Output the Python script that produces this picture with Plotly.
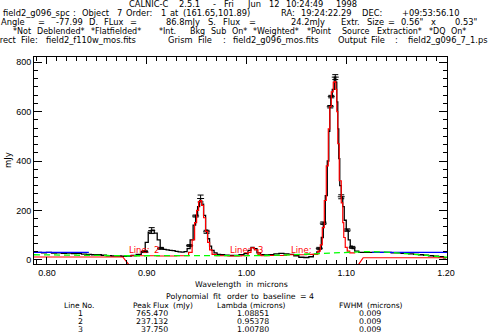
import plotly.graph_objects as go

# ---------------- data ----------------
wl = [0.787, 0.792, 0.797, 0.802, 0.807, 0.812, 0.817, 0.822, 0.827, 0.832, 0.837, 0.842,
      0.847, 0.852, 0.857, 0.862, 0.867, 0.872, 0.877, 0.882, 0.887, 0.892, 0.897, 0.900,
      0.903, 0.906, 0.909, 0.912, 0.915, 0.918, 0.921, 0.924, 0.927, 0.930, 0.933, 0.936,
      0.939, 0.942, 0.945, 0.948, 0.950, 0.952, 0.954, 0.956, 0.958, 0.960, 0.962, 0.964,
      0.966, 0.969, 0.972, 0.976, 0.980, 0.985, 0.990, 0.995, 1.000, 1.003, 1.006, 1.009,
      1.012, 1.016, 1.020, 1.025, 1.030, 1.035, 1.040, 1.045, 1.050, 1.055, 1.060, 1.065,
      1.069, 1.072, 1.074, 1.076, 1.078, 1.080, 1.082, 1.083, 1.084, 1.085, 1.087, 1.089,
      1.090, 1.091, 1.092, 1.093, 1.094, 1.096, 1.097, 1.099, 1.101, 1.103, 1.105, 1.107,
      1.110, 1.115, 1.120, 1.130, 1.140, 1.150, 1.160, 1.165, 1.170, 1.175, 1.180, 1.185,
      1.190, 1.195, 1.200]
flux = [32, 30, 28, 30, 27, 28, 26, 27, 25, 26, 23, 22,
        20, 20, 18, 16, 15, 15, 14, 15, 17, 22, 33, 70,
        112, 120, 108, 80, 48, 42, 40, 38, 37, 34, 32, 31,
        33, 45, 80, 140, 180, 215, 240, 225, 180, 120, 85, 55,
        38, 28, 22, 20, 18, 17, 17, 20, 25, 38, 50, 45,
        28, 20, 19, 20, 24, 26, 24, 22, 16, 10, 9, 12,
        22, 32, 46, 90, 150, 260, 400, 520, 620, 660, 690, 740,
        720, 640, 530, 410, 300, 255, 215, 160, 120, 80, 55, 45,
        35, 30, 30, 30, 30, 28, 26, 24, 22, 20, 18, 16,
        14, 12, 8]

err_wl = [0.898, 0.905, 0.914, 0.943, 0.949, 0.954, 0.960,
          1.073, 1.077, 1.084, 1.085, 1.089, 1.095, 1.101, 1.106]
err_flux = [33, 118, 46, 57, 177, 248, 113,
            46, 148, 620, 661, 740, 255, 120, 50]
err_size = [4, 12, 4, 4, 4, 14, 6,
            4, 5, 5, 5, 10, 8, 5, 4]

fit_wl = [0.883, 0.900, 0.920, 0.940, 0.944, 0.947, 0.949, 0.951, 0.953, 0.954, 0.956,
          0.958, 0.960, 0.962, 0.964, 0.967, 0.972, 0.990, 1.000, 1.003, 1.006, 1.010,
          1.013, 1.016, 1.030, 1.050, 1.070, 1.073, 1.075, 1.077, 1.079, 1.081, 1.083,
          1.084, 1.086, 1.088, 1.089, 1.090, 1.091, 1.092, 1.094, 1.096, 1.097, 1.098,
          1.100, 1.102, 1.105, 1.109]
fit_flux = [16, 16, 15, 16, 30, 80, 150, 200, 235, 240, 220,
            170, 115, 70, 40, 22, 16, 15, 16, 30, 48, 40,
            22, 16, 17, 20, 22, 35, 60, 130, 240, 380, 530,
            620, 680, 720, 722, 690, 600, 470, 320, 230, 150, 90,
            50, 35, 28, 28]

red_left_wl = [0.787, 0.876, 0.8815, 0.884]
red_left_flux = [11, 11, -17, -30]
red_right_wl = [1.1105, 1.117, 1.201]
red_right_flux = [-30, 8, 8]

base_wl = [0.787, 0.80, 0.82, 0.84, 0.86, 0.88, 0.90, 0.92, 0.94, 0.96, 0.98, 1.00,
           1.02, 1.04, 1.06, 1.08, 1.10, 1.12, 1.14, 1.16, 1.18, 1.19, 1.201]
base_flux = [20, 19, 18, 18, 17, 16, 16, 15, 15, 15, 15, 15,
             17, 19, 23, 28, 32, 33, 31, 26, 18, 14, 10]

blue_left_wl = [0.787, 0.842]
blue_left_flux = [30, 30]
blue_right_wl = [1.126, 1.201]
blue_right_flux = [30, 30]

# red line labels inside the plot (split as printed)
line_label_text = ["Line:", "2", "Line:", "3", "Line:"]
line_label_wl = [0.8812, 0.9063, 0.9825, 1.0106, 1.0437]
line_label_flux = [40, 40, 40, 40, 40]

title_text = [
    "CALNIC-C 2.5.1 - Fri Jun 12 10:24:49 1998",
    "field2_g096_spc : Object  7 Order:  1 at (161.65,101.89) RA: 19:24:22.29 DEC: +09:53:56.10",
    "Angle =  -77.99 D. FLux =      86.8mJy S. Flux =       24.2mJy Extr. Size =  0.56\" x  0.53\"",
    "*Not Deblended* *Flatfielded* *Int. Bkg Sub On* *Weighted* *Point Source Extraction* *DQ On*",
    "Direct File: field2_f110w_mos.fits Grism File : field2_g096_mos.fits Output File : field2_g096_7_1.ps",
]
# (character index, pixel x) anchors of each printed line
title_anchors = [
    [(0, 128), (41, 358)],
    [(0, 2), (41, 182), (57, 280), (73, 361), (93, 478)],
    [(0, 0), (9, 55), (16, 88), (31, 165), (55, 290), (63, 340), (77, 400), (86, 445), (91, 478)],
    [(0, 12), (30, 158), (48, 252), (59, 306), (66, 341), (73, 376), (85, 428), (93, 472)],
    [(0, -10), (13, 45), (35, 167), (69, 337), (101, 489)],
]
title_size = [8.3, 8.3, 8.3, 8.0, 8.3]
title_y = [4.4, 13.4, 22.3, 31.2, 40.1]

poly_text = "Polynomial fit order to baseline =  4"
poly_anchors = [(0, 165), (11, 212), (15, 226), (37, 315)]
xlabel_words = ["Wavelength", "in", "microns"]
xlabel_px = [194, 245, 256]

table_header_words = ["Line", "No.", "Peak", "Flux", "(mJy)", "Lambda", "(microns)", "FWHM", "(microns)"]
table_header_px = [63, 81, 132, 152, 172, 216, 249, 338, 366]
table_rows = [["1", "765.470", "1.08851", "0.009"],
              ["2", "237.132", "0.95378", "0.009"],
              ["3", "37.750", "1.00780", "0.009"]]

x_ticks = [0.80, 0.90, 1.00, 1.10, 1.20]
x_tick_text = ["0.80", "0.90", "1.00", "1.10", "1.20"]
y_ticks = [0, 200, 400, 600, 800]

# ---------------- figure ----------------
W, H = 490, 333
L, R, T, B = 34, 43, 57, 69
FONT = "DejaVu Sans"
TICKFONT = "Liberation Sans"

fig = go.Figure()
fig.add_trace(go.Scatter(x=wl, y=flux, mode="lines",
                         line=dict(color="black", width=1.3, shape="hvh")))
fig.add_trace(go.Scatter(x=err_wl, y=err_flux, mode="markers",
                         marker=dict(symbol="line-ew", size=5, color="black",
                                     line=dict(color="black", width=1)),
                         error_y=dict(type="data", array=err_size, color="black",
                                      thickness=1, width=3)))
fig.add_trace(go.Scatter(x=blue_left_wl, y=blue_left_flux, mode="lines",
                         line=dict(color="#0000ff", width=1.2)))
fig.add_trace(go.Scatter(x=blue_right_wl, y=blue_right_flux, mode="lines",
                         line=dict(color="#0000ff", width=1.2)))
fig.add_trace(go.Scatter(x=fit_wl, y=fit_flux, mode="lines",
                         line=dict(color="#ff0000", width=1.2, shape="hvh")))
fig.add_trace(go.Scatter(x=red_left_wl, y=red_left_flux, mode="lines",
                         line=dict(color="#ff0000", width=1.2)))
fig.add_trace(go.Scatter(x=red_right_wl, y=red_right_flux, mode="lines",
                         line=dict(color="#ff0000", width=1.2)))
fig.add_trace(go.Scatter(x=base_wl, y=base_flux, mode="lines",
                         line=dict(color="#00ff00", width=1.3, dash="6px,4px")))

ann = []


def px(xp, yp):
    return (xp - L) / (W - L - R), (H - B - yp) / (H - T - B)


def text(s, xp, yp, anchor="center", size=9, color="black", angle=0, family=FONT):
    x, y = px(xp, yp)
    ann.append(dict(text=s, x=x, y=y, xref="paper", yref="paper",
                    showarrow=False, xanchor=anchor, yanchor="middle", textangle=angle,
                    borderpad=0, font=dict(family=family, size=size, color=color)))


def interp(anchors, i):
    for (i0, x0), (i1, x1) in zip(anchors[:-1], anchors[1:]):
        if i <= i1:
            return x0 + (x1 - x0) * (i - i0) / (i1 - i0)
    return anchors[-1][1]


def spread(line, anchors, yp, size):
    words = []
    i, n = 0, len(line)
    while i < n:
        if line[i] == " ":
            i += 1
            continue
        j = line.find(" ", i)
        j = n if j < 0 else j
        words.append((i, line[i:j]))
        i = j
    for k, (i, w) in enumerate(words):
        if k == len(words) - 1:
            text(w, interp(anchors, n), yp, anchor="right", size=size)
        else:
            text(w, interp(anchors, i), yp, anchor="left", size=size)


for s, anc, sz, yp in zip(title_text, title_anchors, title_size, title_y):
    spread(s, anc, yp, sz)

for s, xp in zip(xlabel_words, xlabel_px):
    text(s, xp, 284, anchor="left", size=7.8)
text("mJy", 8, 160, size=8.5, angle=-90)

spread(poly_text, poly_anchors, 296.5, 7.8)
for s, xp in zip(table_header_words, table_header_px):
    text(s, xp, 305.3, anchor="left", size=7.5)
for i, row in enumerate(table_rows):
    yp = 313.5 + i * 8
    text(row[0], 80, yp, size=7.8)
    text(row[1], 169, yp, anchor="right", size=7.8)
    text(row[2], 253, yp, size=7.8)
    text(row[3], 370, yp, size=7.8)

for s, xv, yv in zip(line_label_text, line_label_wl, line_label_flux):
    ann.append(dict(text=s, x=xv, y=yv, xref="x", yref="y",
                    showarrow=False, xanchor="left", yanchor="middle", borderpad=0,
                    font=dict(family=FONT, size=8.5, color="#ff0000")))

axis_common = dict(showgrid=False, zeroline=False, showline=True, linecolor="black",
                   linewidth=1, mirror="allticks", ticks="inside", tickcolor="black",
                   tickwidth=1, tickfont=dict(family=TICKFONT, size=9, color="black"))
fig.update_layout(
    width=W, height=H,
    margin=dict(l=L, r=R, t=T, b=B, pad=0),
    paper_bgcolor="white", plot_bgcolor="white",
    showlegend=False,
    annotations=ann,
    xaxis=dict(range=[0.787, 1.201], tickvals=x_ticks, ticktext=x_tick_text, ticklen=7,
               minor=dict(dtick=0.01, tick0=0.8, ticklen=4, ticks="inside",
                          tickcolor="black"),
               **axis_common),
    yaxis=dict(range=[-17.4, 821.5], tickvals=y_ticks, ticklen=8,
               minor=dict(dtick=200 / 6, tick0=0, ticklen=4, ticks="inside",
                          tickcolor="black"),
               **axis_common),
)

fig.write_html("out.html")
